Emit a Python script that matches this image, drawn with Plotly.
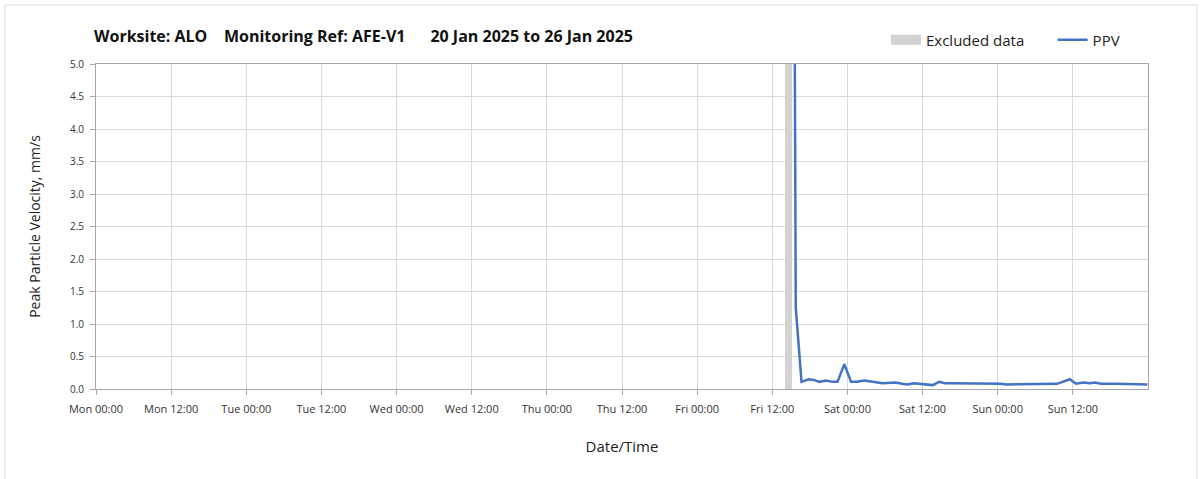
import plotly.graph_objects as go
import pandas as pd

# ---- data ----
ppv_times = [
    "2025-01-24 15:30", "2025-01-24 15:45", "2025-01-24 16:40", "2025-01-24 17:50",
    "2025-01-24 18:40", "2025-01-24 19:30", "2025-01-24 20:35", "2025-01-24 21:35",
    "2025-01-24 22:25", "2025-01-24 23:30", "2025-01-25 00:35", "2025-01-25 01:35",
    "2025-01-25 02:40", "2025-01-25 03:45", "2025-01-25 04:50", "2025-01-25 05:35",
    "2025-01-25 06:40", "2025-01-25 07:40", "2025-01-25 08:45", "2025-01-25 09:35",
    "2025-01-25 10:40", "2025-01-25 11:35", "2025-01-25 12:35", "2025-01-25 13:35",
    "2025-01-25 14:40", "2025-01-25 15:35", "2025-01-25 16:35", "2025-01-25 17:30",
    "2025-01-25 19:00", "2025-01-25 21:00", "2025-01-25 23:00", "2025-01-26 00:30",
    "2025-01-26 01:20", "2025-01-26 03:40", "2025-01-26 04:30", "2025-01-26 07:00",
    "2025-01-26 09:30", "2025-01-26 11:30", "2025-01-26 12:30", "2025-01-26 13:40",
    "2025-01-26 14:45", "2025-01-26 15:30", "2025-01-26 16:30", "2025-01-26 19:00",
    "2025-01-26 21:25", "2025-01-26 22:30", "2025-01-26 23:55",
]
ppv_values = [
    7.5, 1.25, 0.11, 0.15,
    0.14, 0.11, 0.13, 0.11,
    0.11, 0.38, 0.11, 0.11,
    0.13, 0.11, 0.10, 0.09,
    0.10, 0.10, 0.08, 0.07,
    0.09, 0.08, 0.07, 0.06,
    0.11, 0.09, 0.09, 0.09,
    0.08, 0.08, 0.08, 0.08,
    0.07, 0.07, 0.08, 0.08,
    0.08, 0.15, 0.08, 0.10,
    0.09, 0.10, 0.08, 0.08,
    0.08, 0.07, 0.07,
]
excluded_center = ["2025-01-24 14:35"]
excluded_height = [5.0]
excluded_width_ms = 3600000

tick_times = pd.date_range("2025-01-20 00:00", periods=14, freq="12h")
tick_labels = ["Mon 00:00", "Mon 12:00", "Tue 00:00", "Tue 12:00", "Wed 00:00",
               "Wed 12:00", "Thu 00:00", "Thu 12:00", "Fri 00:00", "Fri 12:00",
               "Sat 00:00", "Sat 12:00", "Sun 00:00", "Sun 12:00"]
y_ticks = [0.0, 0.5, 1.0, 1.5, 2.0, 2.5, 3.0, 3.5, 4.0, 4.5, 5.0]

title_text = ("Worksite: ALO\u00a0\u00a0\u00a0\u00a0Monitoring Ref: AFE-V1"
              "\u00a0\u00a0\u00a0\u00a0\u00a0\u00a020 Jan 2025 to 26 Jan 2025")

FONT = "Open Sans"
EXCL_COLOR = "#d3d3d3"
fig = go.Figure()
fig.add_trace(go.Bar(
    x=excluded_center, y=excluded_height, width=[excluded_width_ms],
    marker=dict(color=EXCL_COLOR, line=dict(width=0)),
    name="Excluded data", hoverinfo="skip", showlegend=False,
))
# legend proxy for excluded data (wide grey block)
fig.add_trace(go.Scatter(
    x=[None], y=[None], mode="lines",
    line=dict(color=EXCL_COLOR, width=12),
    name="Excluded data" + "\u00a0" * 6,
))
fig.add_trace(go.Scatter(
    x=ppv_times, y=ppv_values, mode="lines",
    line=dict(color="#4472c4", width=2.5),
    name="PPV",
))

fig.update_layout(
    width=1203, height=479,
    margin=dict(l=96, r=55, t=64, b=90),
    paper_bgcolor="white", plot_bgcolor="white",
    font=dict(family=FONT, color="#222222"),
    title=dict(text="<b>" + title_text + "</b>", x=94 / 1203, xanchor="left",
               y=1 - 36 / 479, yanchor="middle",
               font=dict(size=16, family=FONT, color="#111111")),
    showlegend=True,
    legend=dict(orientation="h", x=(1125 - 96) / 1052, xanchor="right",
                y=(389 - 40) / 325, yanchor="middle",
                font=dict(size=15, family=FONT, color="#222222"),
                bgcolor="rgba(0,0,0,0)", itemwidth=30, traceorder="normal"),
    bargap=0,
)
fig.update_xaxes(
    type="date",
    range=["2025-01-20 00:00", "2025-01-27 00:00"],
    tickvals=tick_times, ticktext=tick_labels,
    showgrid=True, gridcolor="#d9d9d9", gridwidth=1,
    showline=True, linecolor="#a6a6a6", linewidth=1, mirror=True,
    ticks="outside", ticklen=5, tickcolor="#a6a6a6", ticklabelstandoff=5,
    tickfont=dict(size=11, family=FONT, color="#333333"),
    title=dict(text="Date/Time", font=dict(size=15, family=FONT, color="#222222"), standoff=26),
    zeroline=False,
)
fig.update_yaxes(
    range=[0, 5.0],
    tickvals=y_ticks, tickformat=".1f",
    showgrid=True, gridcolor="#d9d9d9", gridwidth=1,
    showline=True, linecolor="#a6a6a6", linewidth=1, mirror=True,
    ticks="outside", ticklen=5, tickcolor="#a6a6a6", ticklabelstandoff=4,
    tickfont=dict(size=10, family=FONT, color="#333333"),
    title=dict(text="Peak Particle Velocity, mm/s", font=dict(size=14, family=FONT, color="#222222"), standoff=26),
    zeroline=False,
)
# outer frame of the chart
fig.add_shape(type="rect", xref="paper", yref="paper",
              x0=(5 - 96) / 1052, x1=(1197 - 96) / 1052,
              y0=-0.4, y1=(389 - 5) / 325,
              line=dict(color="#d9d9d9", width=1), fillcolor="rgba(0,0,0,0)", layer="below")

fig.write_html("out.html", config={"displayModeBar": False},
               post_script="document.body.style.margin='0px';")
